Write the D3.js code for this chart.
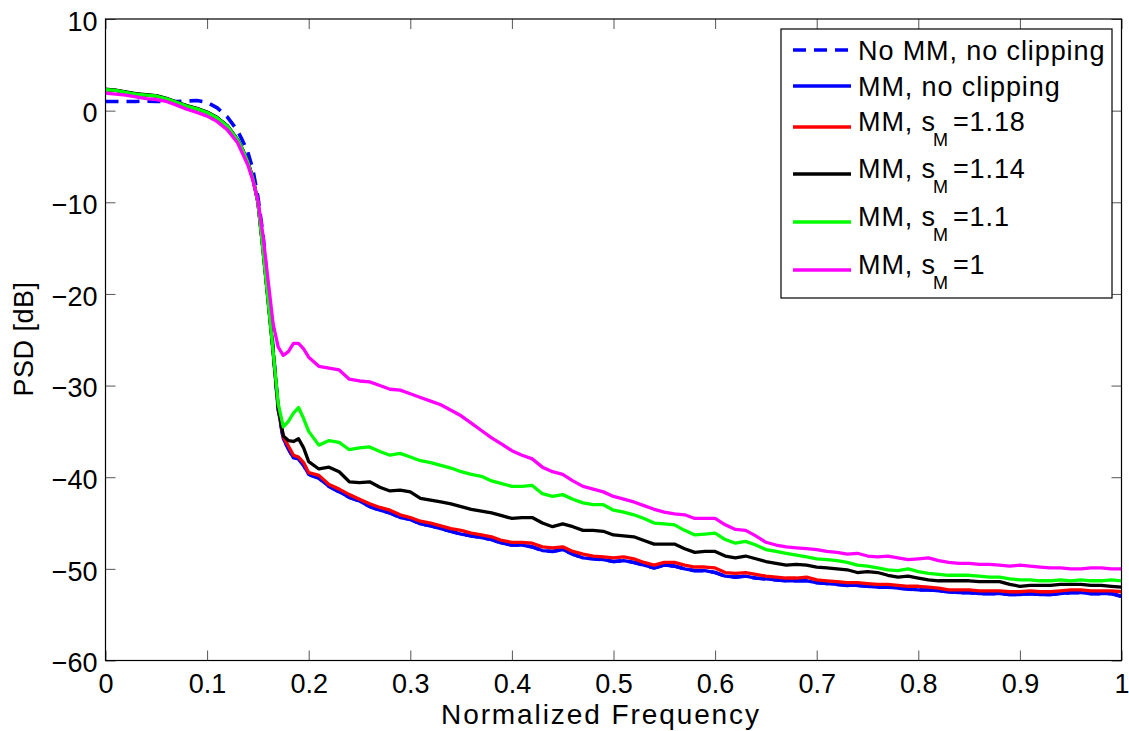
<!DOCTYPE html>
<html>
<head>
<meta charset="utf-8">
<script src="https://cdn.jsdelivr.net/npm/d3@7"></script>
<style>
  body { margin: 0; background: #fff; }
  svg { display: block; font-family: "Liberation Sans", Arial, sans-serif; }
</style>
</head>
<body>
<div class="chart"></div>
<script>
// normalized frequency grid (denser around the band edge)
var freq = [0, 0.01, 0.02, 0.03, 0.04, 0.05, 0.06, 0.07, 0.08, 0.09, 0.10, 0.11, 0.12, 0.13,
  0.135, 0.14, 0.145, 0.15, 0.155, 0.16, 0.165, 0.17, 0.175, 0.18, 0.185, 0.19, 0.195,
  0.20, 0.21, 0.22, 0.23, 0.24, 0.25, 0.26, 0.27, 0.28, 0.29,
  0.30, 0.31, 0.32, 0.33, 0.34, 0.35, 0.36, 0.37, 0.38, 0.39,
  0.40, 0.41, 0.42, 0.43, 0.44, 0.45, 0.46, 0.47, 0.48, 0.49,
  0.50, 0.51, 0.52, 0.53, 0.54, 0.55, 0.56, 0.57, 0.58, 0.59,
  0.60, 0.61, 0.62, 0.63, 0.64, 0.65, 0.66, 0.67, 0.68, 0.69,
  0.70, 0.71, 0.72, 0.73, 0.74, 0.75, 0.76, 0.77, 0.78, 0.79,
  0.80, 0.81, 0.82, 0.83, 0.84, 0.85, 0.86, 0.87, 0.88, 0.89,
  0.90, 0.91, 0.92, 0.93, 0.94, 0.95, 0.96, 0.97, 0.98, 0.99, 1.00];

// PSD in dB for each curve
var psdNoMM = [1.0, 1.0, 1.0, 1.0, 1.05, 1.0, 1.0, 1.0, 1.05, 1.1, 0.9, 0.3, -0.7, -2.2,
  -3.3, -4.5, -6.4, -9.4, -13.5, -19.5, -26.0, -32.6, -35.8, -36.9, -37.9, -38.0, -38.7,
  -39.7, -40.1, -41.0, -41.6, -42.2, -42.6, -43.2, -43.6, -43.9, -44.4,
  -44.6, -45.1, -45.3, -45.6, -45.9, -46.2, -46.4, -46.6, -46.8, -47.2,
  -47.4, -47.4, -47.6, -48.0, -48.1, -47.9, -48.4, -48.8, -48.9, -49.0,
  -49.2, -49.1, -49.3, -49.6, -49.9, -49.6, -49.7, -50.0, -50.2, -50.2,
  -50.4, -50.8, -50.9, -50.8, -51.0, -51.1, -51.2, -51.3, -51.3, -51.3,
  -51.5, -51.6, -51.7, -51.8, -51.8, -51.9, -52.0, -52.0, -52.1, -52.2,
  -52.3, -52.3, -52.4, -52.5, -52.6, -52.6, -52.7, -52.7, -52.7, -52.8,
  -52.8, -52.7, -52.8, -52.8, -52.7, -52.6, -52.6, -52.7, -52.7, -52.7, -53.0];

var psdMM = [2.3, 2.2, 2.0, 1.8, 1.7, 1.6, 1.3, 0.9, 0.5, 0.2, -0.2, -0.8, -1.7, -3.2,
  -4.3, -5.6, -7.4, -10.0, -15.2, -20.7, -26.3, -32.6, -35.8, -36.9, -37.9, -38.0, -38.7,
  -39.7, -40.1, -41.0, -41.6, -42.2, -42.6, -43.2, -43.6, -43.9, -44.4,
  -44.6, -45.1, -45.3, -45.6, -45.9, -46.2, -46.4, -46.6, -46.8, -47.2,
  -47.4, -47.4, -47.6, -48.0, -48.1, -47.9, -48.4, -48.8, -48.9, -49.0,
  -49.2, -49.1, -49.3, -49.6, -49.9, -49.6, -49.7, -50.0, -50.2, -50.2,
  -50.4, -50.8, -50.9, -50.8, -51.0, -51.1, -51.2, -51.3, -51.3, -51.3,
  -51.5, -51.6, -51.7, -51.8, -51.8, -51.9, -52.0, -52.0, -52.1, -52.2,
  -52.3, -52.3, -52.4, -52.5, -52.6, -52.6, -52.7, -52.7, -52.7, -52.8,
  -52.8, -52.7, -52.8, -52.8, -52.7, -52.6, -52.6, -52.7, -52.7, -52.7, -53.0];

var psd118 = [2.3, 2.2, 2.0, 1.8, 1.7, 1.6, 1.3, 0.9, 0.5, 0.2, -0.2, -0.8, -1.7, -3.2,
  -4.3, -5.6, -7.4, -10.0, -15.2, -20.7, -26.3, -32.5, -35.6, -36.6, -37.6, -37.8, -38.4,
  -39.5, -39.8, -40.8, -41.3, -41.9, -42.4, -42.9, -43.3, -43.6, -44.1,
  -44.4, -44.8, -45.0, -45.3, -45.6, -45.8, -46.1, -46.3, -46.5, -46.9,
  -47.1, -47.1, -47.2, -47.6, -47.7, -47.6, -48.1, -48.4, -48.6, -48.7,
  -48.8, -48.7, -48.9, -49.3, -49.6, -49.3, -49.3, -49.6, -49.8, -49.8,
  -49.9, -50.4, -50.5, -50.4, -50.6, -50.8, -50.9, -51.0, -51.0, -50.9,
  -51.2, -51.3, -51.4, -51.5, -51.5, -51.6, -51.7, -51.7, -51.8, -51.9,
  -51.9, -52.0, -52.1, -52.3, -52.3, -52.3, -52.4, -52.4, -52.4, -52.5,
  -52.5, -52.4, -52.5, -52.5, -52.4, -52.3, -52.3, -52.4, -52.4, -52.4, -52.5];

var psd114 = [2.35, 2.25, 2.05, 1.85, 1.75, 1.65, 1.35, 0.95, 0.55, 0.25, -0.15, -0.75, -1.65, -3.15,
  -4.25, -5.55, -7.35, -9.95, -15.1, -20.6, -26.3, -32.3, -35.5, -36.0, -36.1, -35.8, -36.8,
  -38.3, -39.1, -38.9, -39.4, -40.5, -40.6, -40.5, -41.1, -41.5, -41.4,
  -41.6, -42.3, -42.5, -42.7, -42.9, -43.2, -43.5, -43.7, -43.9, -44.2,
  -44.5, -44.4, -44.4, -45.0, -45.4, -45.1, -45.4, -45.8, -45.8, -45.9,
  -46.3, -46.4, -46.5, -46.9, -47.3, -47.3, -47.3, -47.8, -48.2, -48.1,
  -48.1, -48.6, -48.8, -48.6, -48.9, -49.2, -49.4, -49.6, -49.5, -49.6,
  -49.8, -49.9, -50.0, -50.1, -50.4, -50.3, -50.4, -50.7, -50.9, -50.8,
  -51.0, -51.2, -51.3, -51.3, -51.3, -51.3, -51.4, -51.4, -51.4, -51.7,
  -51.9, -51.8, -51.8, -51.8, -51.7, -51.7, -51.7, -51.8, -51.8, -51.9, -52.0];

var psd110 = [2.3, 2.2, 2.0, 1.8, 1.7, 1.6, 1.3, 0.9, 0.5, 0.2, -0.2, -0.8, -1.7, -3.2,
  -4.3, -5.6, -7.4, -10.0, -15.2, -20.7, -26.3, -32.0, -34.5, -33.9, -33.0, -32.4, -33.6,
  -35.0, -36.5, -36.0, -36.2, -37.0, -36.8, -36.7, -37.2, -37.6, -37.4,
  -37.8, -38.2, -38.4, -38.7, -39.0, -39.4, -39.7, -39.9, -40.4, -40.7,
  -41.0, -41.0, -40.9, -41.8, -42.1, -41.9, -42.4, -42.8, -43.0, -43.0,
  -43.6, -43.8, -44.1, -44.5, -45.0, -45.1, -45.2, -45.8, -46.3, -46.2,
  -46.1, -46.8, -47.2, -47.0, -47.4, -47.9, -48.1, -48.3, -48.5, -48.7,
  -48.9, -49.0, -49.1, -49.3, -49.6, -49.7, -49.9, -50.1, -50.2, -50.0,
  -50.3, -50.5, -50.6, -50.7, -50.7, -50.7, -50.8, -50.9, -50.9, -51.1,
  -51.2, -51.2, -51.3, -51.3, -51.2, -51.3, -51.2, -51.3, -51.3, -51.2, -51.3];

var psd100 = [1.9, 1.8, 1.7, 1.5, 1.3, 1.2, 1.0, 0.6, 0.15, -0.2, -0.6, -1.2, -2.1, -3.5,
  -4.7, -5.9, -7.6, -9.8, -13.6, -18.5, -23.3, -25.8, -26.7, -26.3, -25.4, -25.4, -26.0,
  -26.9, -27.9, -28.1, -28.3, -29.3, -29.5, -29.6, -30.0, -30.4, -30.5,
  -30.9, -31.3, -31.7, -32.1, -32.7, -33.3, -34.1, -34.9, -35.7, -36.4,
  -37.1, -37.6, -38.0, -38.9, -39.4, -39.7, -40.4, -41.0, -41.3, -41.6,
  -42.1, -42.4, -42.7, -43.1, -43.5, -43.8, -44.0, -44.1, -44.5, -44.5,
  -44.5, -45.2, -45.7, -45.8, -46.4, -47.1, -47.4, -47.6, -47.7, -47.8,
  -47.9, -48.1, -48.2, -48.4, -48.3, -48.6, -48.7, -48.6, -48.8, -49.0,
  -48.9, -48.8, -49.1, -49.3, -49.4, -49.4, -49.5, -49.5, -49.6, -49.7,
  -49.6, -49.7, -49.8, -49.9, -49.9, -50.0, -50.0, -49.9, -49.9, -50.0, -50.0];

var xTicks = [0, 0.1, 0.2, 0.3, 0.4, 0.5, 0.6, 0.7, 0.8, 0.9, 1];
var yTicks = [-60, -50, -40, -30, -20, -10, 0, 10];

// legend: main text, subscript, tail
var seriesNames = ["No MM, no clipping", "MM, no clipping", "MM, s", "MM, s", "MM, s", "MM, s"];
var seriesSubs = ["", "", "M", "M", "M", "M"];
var seriesTails = ["", "", "=1.18", "=1.14", "=1.1", "=1"];
var seriesColors = ["#0000ff", "#0000ff", "#ff0000", "#000000", "#00ff00", "#ff00ff"];
var seriesData = [psdNoMM, psdMM, psd118, psd114, psd110, psd100];

var width = 1129, height = 731;
var plotL = 105.5, plotR = 1121.5, plotT = 19, plotB = 660.5;

var svg = d3.select('.chart').append('svg').attr('width', width).attr('height', height);

var x = d3.scaleLinear().domain([0, 1]).range([plotL, plotR]);
var y = d3.scaleLinear().domain([-60, 10]).range([plotB, plotT]);

// clip for the curves
svg.append('clipPath').attr('id', 'plotclip').append('rect')
  .attr('x', plotL).attr('y', plotT).attr('width', plotR - plotL).attr('height', plotB - plotT);

//axes with inward ticks on all four sides
var fontSize = 27;
var xAxis = d3.axisBottom(x).tickValues(xTicks).tickSizeInner(-10).tickSizeOuter(0).tickPadding(13).tickFormat(d3.format('~g'));
var yAxis = d3.axisLeft(y).tickValues(yTicks).tickSizeInner(-10).tickSizeOuter(0).tickPadding(8).tickFormat(d3.format('~g'));
var xTop = d3.axisTop(x).tickValues(xTicks).tickSizeInner(-10).tickSizeOuter(0).tickFormat('');
var yRight = d3.axisRight(y).tickValues(yTicks).tickSizeInner(-10).tickSizeOuter(0).tickFormat('');

function styleAxis(g) {
  g.select('.domain').remove();
  g.selectAll('.tick line').attr('stroke', '#555').attr('stroke-width', 1);
  g.selectAll('.tick text').attr('fill', '#000').style('font-size', fontSize + 'px')
    .style('font-family', '"Liberation Sans", Arial, sans-serif');
}

svg.append('g').attr('transform', 'translate(0,' + plotB + ')').call(xAxis).call(styleAxis)
  .selectAll('.tick text').attr('dy', '0.72em');
svg.append('g').attr('transform', 'translate(' + plotL + ',0)').call(yAxis).call(styleAxis)
  .selectAll('.tick text').attr('dy', '0.42em');
svg.append('g').attr('transform', 'translate(0,' + plotT + ')').call(xTop).call(styleAxis);
svg.append('g').attr('transform', 'translate(' + plotR + ',0)').call(yRight).call(styleAxis);

// curves
var line = d3.line()
  .x(function (d, i) { return x(freq[i]); })
  .y(function (d) { return y(d); });

var curves = svg.append('g').attr('clip-path', 'url(#plotclip)');
seriesData.forEach(function (vals, k) {
  curves.append('path')
    .attr('d', line(vals))
    .attr('fill', 'none')
    .attr('stroke', seriesColors[k])
    .attr('stroke-width', k === 0 ? 3.6 : 3.3)
    .attr('stroke-linejoin', 'round')
    .attr('stroke-dasharray', k === 0 ? '13,8' : null);
});

// plot box
svg.append('rect').attr('x', plotL).attr('y', plotT).attr('width', plotR - plotL).attr('height', plotB - plotT)
  .attr('fill', 'none').attr('stroke', '#000').attr('stroke-width', 1.2);

// axis labels
svg.append('text').attr('x', 600).attr('y', 724).attr('text-anchor', 'middle')
  .style('font-size', '28px').attr('textLength', 318).attr('lengthAdjust', 'spacing')
  .text('Normalized Frequency');
svg.append('text').attr('transform', 'translate(33,339) rotate(-90)').attr('text-anchor', 'middle')
  .style('font-size', fontSize + 'px').style('letter-spacing', '0.5px').text('PSD [dB]');

// legend
var lg = svg.append('g');
lg.append('rect').attr('x', 781).attr('y', 29).attr('width', 331).attr('height', 269)
  .attr('fill', '#fff').attr('stroke', '#000').attr('stroke-width', 1.2);
var rowY = [50, 86, 127, 174, 222, 270];
seriesNames.forEach(function (name, k) {
  var ly = rowY[k];
  lg.append('line').attr('x1', 793).attr('x2', 851).attr('y1', ly).attr('y2', ly)
    .attr('stroke', seriesColors[k]).attr('stroke-width', k === 0 ? 3.6 : 3.3)
    .attr('stroke-dasharray', k === 0 ? '13,8' : null);
  var t = lg.append('text').attr('x', 858).attr('y', seriesSubs[k] ? ly + 4 : ly + 10)
    .style('font-size', '27px').style('letter-spacing', '0.9px');
  t.append('tspan').text(name);
  if (seriesSubs[k]) {
    t.append('tspan').attr('dy', 15).attr('dx', -3).style('font-size', '18px').text(seriesSubs[k]);
    t.append('tspan').attr('dy', -15).attr('dx', 4).text(seriesTails[k]);
  }
});
</script>
</body>
</html>
